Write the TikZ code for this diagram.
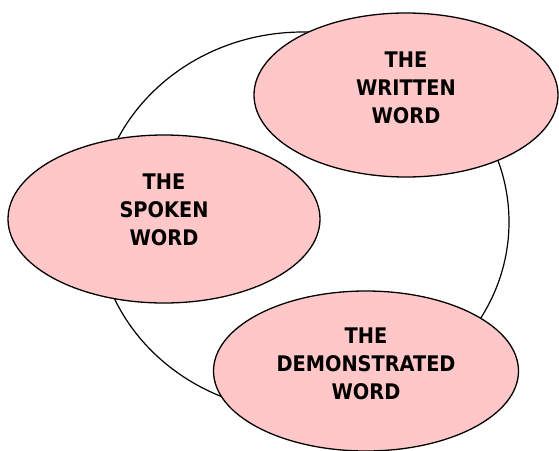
\documentclass[tikz,border=0pt]{standalone}
\usepackage{fontspec}
\setmainfont{DejaVu Sans Condensed}
\usepackage{xcolor}
\usetikzlibrary{shapes.geometric,positioning}
\definecolor{blobpink}{RGB}{255,199,199}
\tikzset{
    wordblob/.style={ellipse, draw=black, line width=1.3pt, fill=blobpink, inner sep=0pt},
    wordtext/.style={font=\bfseries\fontsize{21.5}{28}\selectfont, align=center, text=black}
}

\begin{document}
\begin{tikzpicture}[x=1pt,y=-1pt]
        \useasboundingbox (0,0) rectangle (559,450);

        % draw the big ring behind
        \node[draw=black, line width=1.2pt, fill=white, ellipse, inner sep=0pt,
        minimum width=412pt, minimum height=380pt] (ring) at (303,222) {};

        % draw the three words
        \node[wordblob, minimum width=304pt, minimum height=164pt] (written) at (406,95) {};
        \node[wordblob, minimum width=312pt, minimum height=168pt] (spoken) at (164,219) {};
        \node[wordblob, minimum width=305pt, minimum height=160pt] (shown) at (366,371) {};

        \node[wordtext] (writtentxt) at ([yshift=7pt]written.center) {THE\\WRITTEN\\WORD};
        \node[wordtext] (spokentxt) at ([yshift=9pt]spoken.center) {THE\\SPOKEN\\WORD};
        \node[wordtext] (showntxt) at ([yshift=7pt]shown.center) {THE\\DEMONSTRATED\\WORD};
    \end{tikzpicture}
\end{document}
